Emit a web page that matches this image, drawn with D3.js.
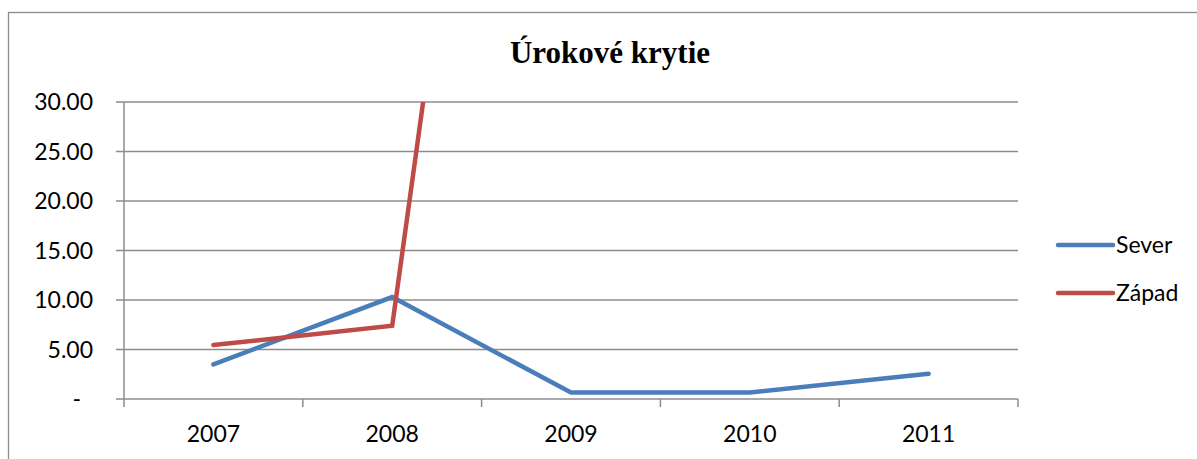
<!DOCTYPE html>
<html>
<head>
<meta charset="utf-8">
<script src="https://cdn.jsdelivr.net/npm/d3@7"></script>
<style>
  html, body { margin: 0; padding: 0; background: #fff; }
  svg { display: block; }
</style>
</head>
<body>
<div id="chart"></div>
<script>
// data
const YEARS  = ['2007', '2008', '2009', '2010', '2011'];
const SEVER  = [3.5, 10.3, 0.65, 0.65, 2.55];
const ZAPAD  = [5.45, 7.4, 138, null, null];   // 2009 odhad (mimo osi), ďalej nečitateľné
const Y_TICKS = [0, 5, 10, 15, 20, 25, 30];

const W = 1197, H = 459;
const m = { left: 124, right: 1018, top: 102, bottom: 399 };

const svg = d3.select('#chart').append('svg')
  .attr('width', W).attr('height', H);

// outer frame (right/bottom run off the picture)
svg.append('rect')
  .attr('x', 8.5).attr('y', 12.5)
  .attr('width', W + 10).attr('height', H + 10)
  .attr('fill', 'none').attr('stroke', '#8c8c8c').attr('stroke-width', 1.3);

const x = d3.scaleBand(YEARS, [m.left, m.right]).paddingInner(0).paddingOuter(0);
const y = d3.scaleLinear([0, 30], [m.bottom, m.top]);
const cx = d => x(d) + x.bandwidth() / 2;

// gridlines + y labels
const gy = svg.append('g');
gy.selectAll('line')
  .data(Y_TICKS)
  .join('line')
    .attr('x1', m.left - 8).attr('x2', m.right)
    .attr('y1', d => y(d)).attr('y2', d => y(d))
    .attr('stroke', '#8c8c8c').attr('stroke-width', 1.5);

gy.selectAll('text')
  .data(Y_TICKS)
  .join('text')
    .attr('x', d => d === 0 ? 81 : 93)
    .attr('y', d => y(d))
    .attr('dy', '0.36em')
    .attr('text-anchor', 'end')
    .attr('font-family', 'Lato, sans-serif')
    .attr('font-size', 23)
    .attr('fill', '#000')
    .text(d => d === 0 ? '-' : d3.format('.2f')(d));

// y axis line
svg.append('line')
  .attr('x1', m.left).attr('x2', m.left)
  .attr('y1', m.top).attr('y2', m.bottom)
  .attr('stroke', '#8c8c8c').attr('stroke-width', 1.5);

// x ticks at category edges
const edges = YEARS.map(d => x(d)).concat([m.right]);
svg.append('g').selectAll('line')
  .data(edges)
  .join('line')
    .attr('x1', d => d).attr('x2', d => d)
    .attr('y1', m.bottom).attr('y2', m.bottom + 8)
    .attr('stroke', '#8c8c8c').attr('stroke-width', 1.5);

svg.append('g').selectAll('text')
  .data(YEARS)
  .join('text')
    .attr('x', cx)
    .attr('y', 442)
    .attr('text-anchor', 'middle')
    .attr('font-family', 'Lato, sans-serif')
    .attr('font-size', 23)
    .attr('fill', '#000')
    .text(d => d);

// clip to plot area
svg.append('defs').append('clipPath').attr('id', 'plot')
  .append('rect')
    .attr('x', m.left).attr('y', m.top)
    .attr('width', m.right - m.left).attr('height', m.bottom - m.top);

const line = d3.line()
  .defined(d => d.v != null)
  .x(d => cx(d.year))
  .y(d => y(d.v));

const SERIES = [
  { name: 'Sever', color: '#4a7ebb', values: SEVER },
  { name: 'Západ', color: '#be4b48', values: ZAPAD }
];

const plot = svg.append('g').attr('clip-path', 'url(#plot)');
plot.selectAll('path')
  .data(SERIES)
  .join('path')
    .attr('d', s => line(YEARS.map((yr, i) => ({ year: yr, v: s.values[i] }))))
    .attr('fill', 'none')
    .attr('stroke', s => s.color)
    .attr('stroke-width', 4.5)
    .attr('stroke-linecap', 'round');

// legend
const leg = svg.append('g').selectAll('g')
  .data(SERIES)
  .join('g')
    .attr('transform', (d, i) => `translate(1058, ${245 + i * 48})`);

leg.append('line')
  .attr('x1', 0).attr('x2', 55)
  .attr('stroke', d => d.color)
  .attr('stroke-width', 4.5)
  .attr('stroke-linecap', 'round');

leg.append('text')
  .attr('x', 58)
  .attr('dy', '0.36em')
  .attr('font-family', 'Lato, sans-serif')
  .attr('font-size', 23)
  .attr('fill', '#000')
  .text(d => d.name);

// title
svg.append('text')
  .attr('x', 610).attr('y', 63)
  .attr('text-anchor', 'middle')
  .attr('font-family', '"Liberation Serif", "Times New Roman", serif')
  .attr('font-weight', 'bold')
  .attr('font-size', 31)
  .attr('fill', '#000')
  .text('Úrokové krytie');
</script>
</body>
</html>
